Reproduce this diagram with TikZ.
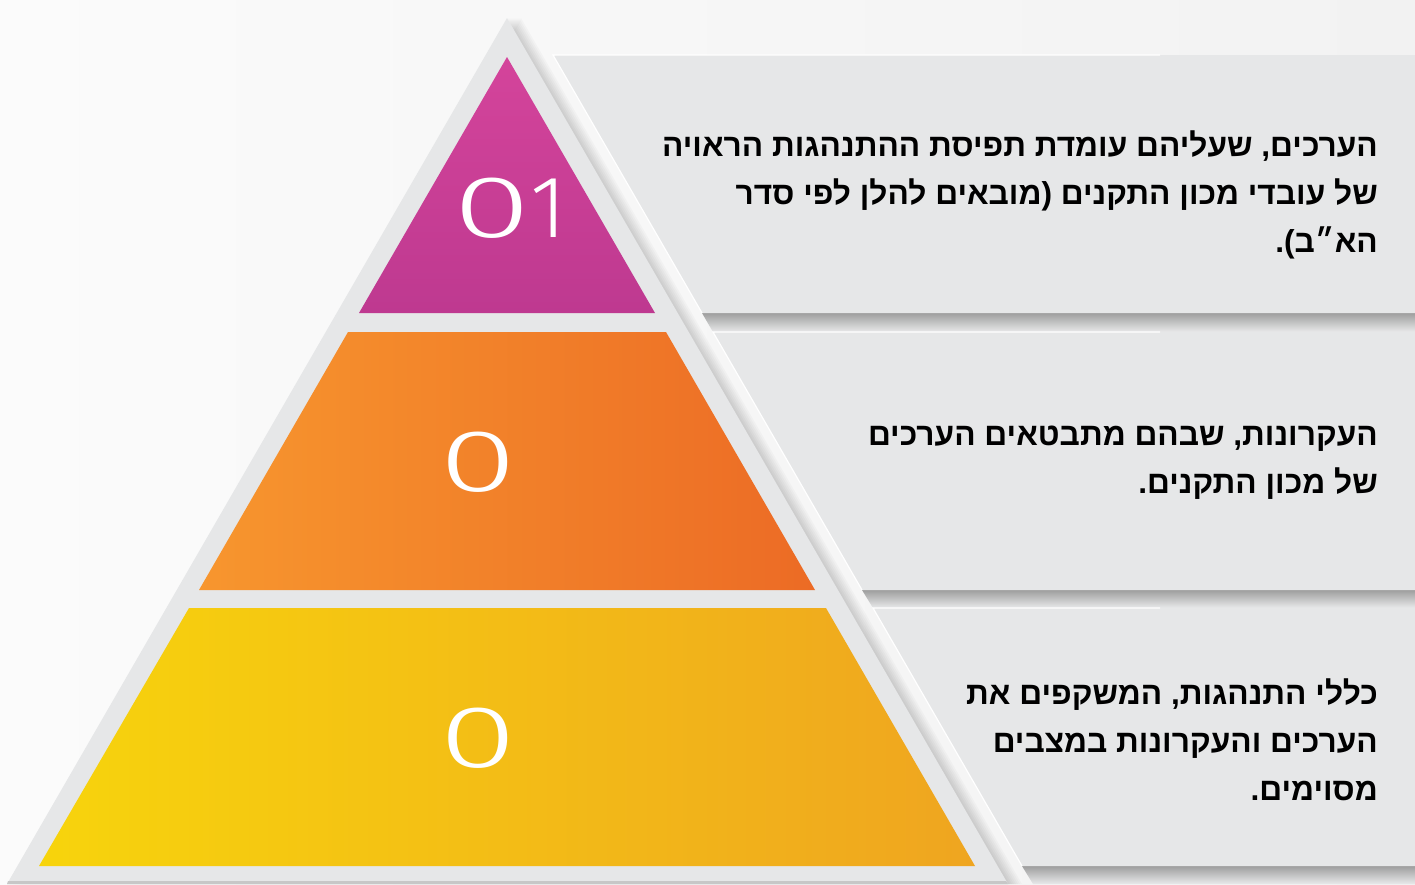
\documentclass[tikz,border=0pt]{standalone}
\usepackage{fontspec}
\setmainfont{Liberation Sans}
\newfontfamily\hebfont[Script=Hebrew]{Liberation Sans}
\newfontfamily\numfont{Fira Sans Light}
\TeXXeTstate=1
\definecolor{panel}{HTML}{E6E7E8}
\definecolor{bgleft}{HTML}{FBFBFB}
\definecolor{bgright}{HTML}{F2F2F2}
\definecolor{shd}{HTML}{9E9E9E}
\definecolor{magtop}{HTML}{D4449B}
\definecolor{magbot}{HTML}{BE3990}
\definecolor{orgleft}{HTML}{F7962E}
\definecolor{orgright}{HTML}{EC6B25}
\definecolor{yelleft}{HTML}{F7D40C}
\definecolor{yelright}{HTML}{EFA520}
\newcommand{\widezero}{\scalebox{1.6}[1]{0}}

\begin{document}
\begin{tikzpicture}[x=1pt,y=-1pt,
  txt/.style={font=\hebfont\bfseries\fontsize{31.7}{48}\selectfont,text=black,align=right,anchor=east,inner sep=0pt},
  num/.style={font=\numfont\fontsize{88}{88}\selectfont,text=white,inner sep=0pt},
  card/.style={fill=panel},
  glint/.style={draw=white,line width=1.2pt},
  dropband/.style={top color=shd,bottom color=panel!90!white}]
\useasboundingbox (0,0) rectangle (1415,884);
\shade[left color=bgleft,right color=bgright] (0,0) rectangle (1415,884);

\shade[dropband] (702,313) -- (1415,313) -- (1415,332) -- (713,332) -- cycle;
\shade[dropband] (862,590) -- (1415,590) -- (1415,608) -- (873,608) -- cycle;
\shade[dropband] (1022,866) -- (1415,866) -- (1415,884) -- (1033,884) -- cycle;
\fill[card] (553,55) -- (1415,55) -- (1415,313) -- (702,313) -- cycle;
\fill[card] (713,332) -- (1415,332) -- (1415,590) -- (862,590) -- cycle;
\fill[card] (873,608) -- (1415,608) -- (1415,866) -- (1022,866) -- cycle;
\draw[glint] (702,313) -- (553,55) -- (1160,55);
\draw[glint] (862,590) -- (713,332) -- (1160,332);
\draw[glint] (1022,866) -- (873,608) -- (1160,608);

\foreach \d in {2,4,...,14}
  \fill[black,opacity=0.025,shift={(\d,0)}] (507,18) -- (1008,884) -- (7,884) -- cycle;
\fill[panel] (507,18) -- (1008,884) -- (7,884) -- cycle;
\fill[black!22] (8,881) -- (1006,881) -- (1008,884) -- (7,884) -- cycle;

\shade[top color=magtop,bottom color=magbot] (507,57) -- (655,313) -- (359,313) -- cycle;
\shade[left color=orgleft,right color=orgright] (348,332) -- (666,332) -- (815,590) -- (199,590) -- cycle;
\shade[left color=yelleft,right color=yelright] (189,608) -- (826,608) -- (975,866) -- (39,866) -- cycle;

\path (510,208) node[num] (n1) {\widezero1};
\path (478,462) node[num] (n2) {\widezero};
\path (478,738) node[num] (n3) {\widezero};

\path (1378,195) node[txt] (t1) {\beginR הערכים, שעליהם עומדת תפיסת ההתנהגות הראויה\endR\\
\beginR של עובדי מכון התקנים (מובאים להלן לפי סדר\endR\\
\beginR הא״ב).\endR};
\path (1378,463) node[txt] (t2) {\beginR העקרונות, שבהם מתבטאים הערכים\endR\\
\beginR של מכון התקנים.\endR};
\path (1378,740) node[txt] (t3) {\beginR כללי התנהגות, המשקפים את\endR\\
\beginR הערכים והעקרונות במצבים\endR\\
\beginR מסוימים.\endR};

\end{tikzpicture}
\end{document}
